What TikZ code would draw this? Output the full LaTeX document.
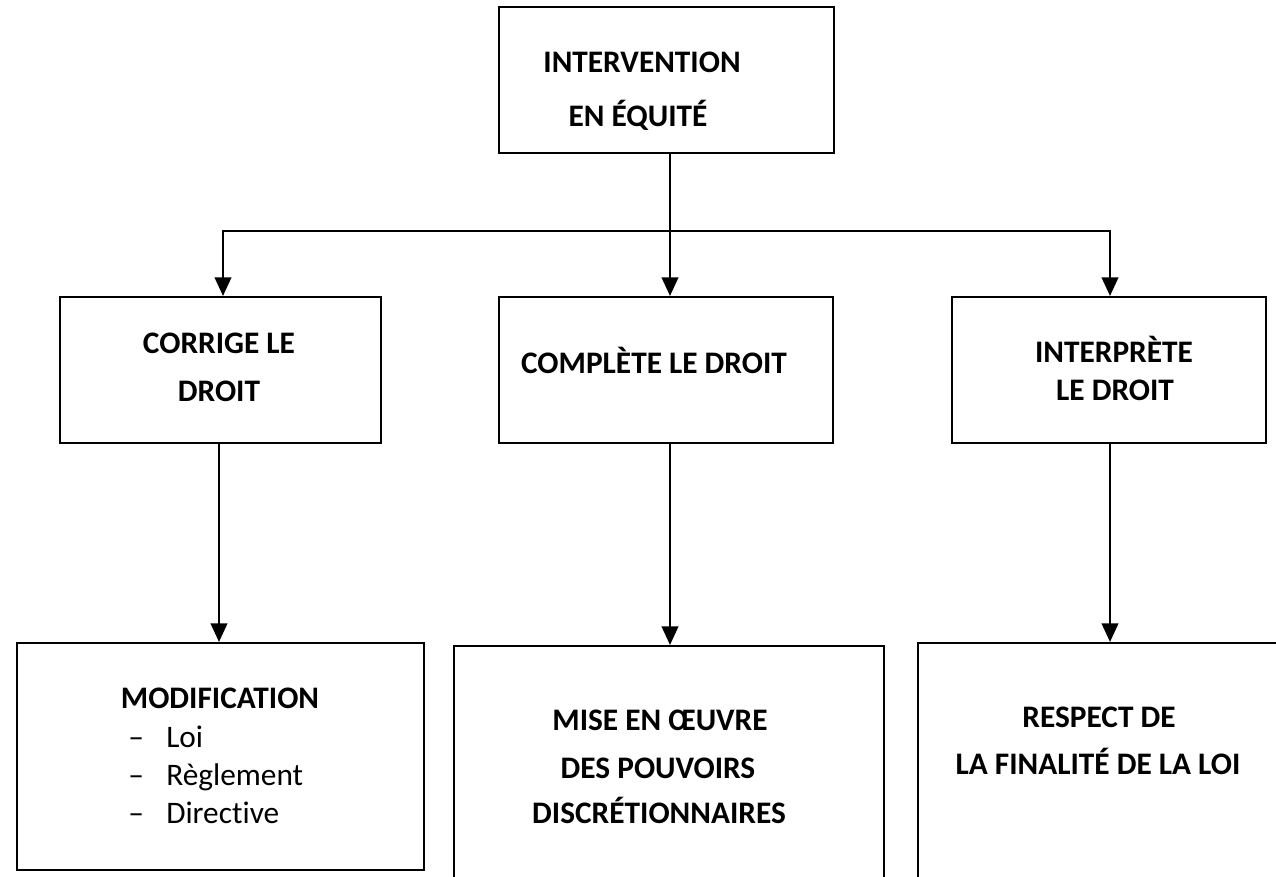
\documentclass[tikz,border=0pt]{standalone}
\usepackage{fontspec}
\setmainfont{Carlito}[Ligatures=NoCommon]
\usetikzlibrary{arrows.meta,fit}
\tikzset{
  box/.style={draw, line width=1.6pt, inner sep=0pt},
  conn/.style={line width=1.6pt},
  arr/.style={line width=1.6pt, -{Triangle[width=12.5pt,length=14pt]}},
  bl/.style={anchor=base, inner sep=0pt, font=\fontsize{23.5}{28}\selectfont\bfseries},
  rg/.style={anchor=base west, inner sep=0pt, font=\fontsize{23.5}{28}\selectfont},
}
\begin{document}
\begin{tikzpicture}[x=0.75pt,y=-0.75pt]
\useasboundingbox (0,0) rectangle (1276,876);
\begin{scope}
\clip (0,0) rectangle (1276,876);
% boxes
\node[box, fit={(499,7) (834,153)}] (top) {};
\node[box, fit={(60,297) (381,443)}] (l2) {};
\node[box, fit={(499,297) (833,443)}] (m2) {};
\node[box, fit={(952,297) (1266,443)}] (r2) {};
\node[box, fit={(17,643) (424,870)}] (l3) {};
\node[box, fit={(454,646) (884,900)}] (m3) {};
\node[box, fit={(918,643) (1300,900)}] (r3) {};
% texts
\node[bl] (t1) at (642,72) {INTERVENTION};
\node[bl] (t2) at (638,126) {EN ÉQUITÉ};
\node[bl] (l2a) at (219,353) {CORRIGE LE};
\node[bl] (l2b) at (219,401) {DROIT};
\node[bl] (m2a) at (654,373) {COMPLÈTE LE DROIT};
\node[bl] (r2a) at (1114,362) {INTERPRÈTE};
\node[bl] (r2b) at (1115,400) {LE DROIT};
\node[bl] (l3a) at (220,708) {MODIFICATION};
\node[rg] (d1) at (128,747) {–};
\node[rg] (d2) at (128,785) {–};
\node[rg] (d3) at (128,823) {–};
\node[rg] (i1) at (166,747) {Loi};
\node[rg] (i2) at (166,785) {Règlement};
\node[rg] (i3) at (166,823) {Directive};
\node[bl] (m3a) at (660,730) {MISE EN ŒUVRE};
\node[bl] (m3b) at (658,778) {DES POUVOIRS};
\node[bl] (m3c) at (659,823) {DISCRÉTIONNAIRES};
\node[bl] (r3a) at (1099,727) {RESPECT DE};
\node[bl] (r3b) at (1098,774) {LA FINALITÉ DE LA LOI};
% connectors
\coordinate (j) at (670,231);
\coordinate (jl) at (223,231);
\coordinate (jr) at (1110,231);
\coordinate (xl) at (219,0);
\coordinate (xr) at (1110,0);
\draw[conn] (top.south -| j) -- (j);
\draw[arr] (j) -| (jl |- l2.north);
\draw[arr] (j) -| (jr |- r2.north);
\draw[arr] (j) -- (j |- m2.north);
\draw[arr] (l2.south -| xl) -- (l3.north -| xl);
\draw[arr] (m2.south -| j) -- (m3.north -| j);
\draw[arr] (r2.south -| xr) -- (r3.north -| xr);
\end{scope}
\end{tikzpicture}
\end{document}
